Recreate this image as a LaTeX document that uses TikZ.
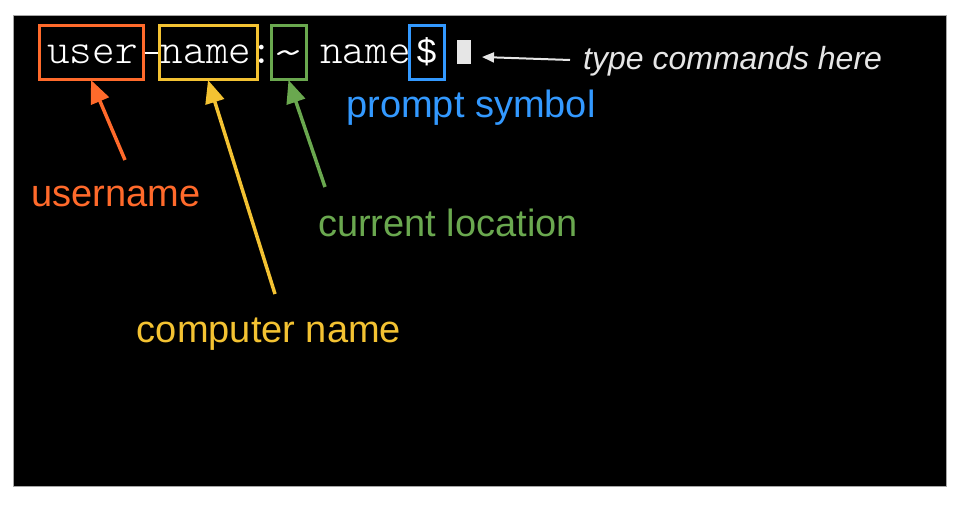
\documentclass[tikz,border=0pt]{standalone}
\usepackage{fontspec}
\usepackage{graphicx}
\setmainfont{Liberation Sans}
\newfontfamily\termfont{Latin Modern Mono Light}
\usetikzlibrary{arrows.meta}
\definecolor{cOrange}{HTML}{FF6A2B}
\definecolor{cYellow}{HTML}{F3C232}
\definecolor{cGreen}{HTML}{6AA84F}
\definecolor{cBlue}{HTML}{3399FF}
\definecolor{cGray}{HTML}{E6E6E6}
\tikzset{
  hbox/.style={draw=#1, line width=3pt, minimum height=54pt, inner sep=0pt},
  term/.style={text=white, font=\termfont\fontsize{43}{43}\selectfont, inner sep=0pt, anchor=base},
  lbl/.style={text=#1, font=\fontsize{38}{38}\selectfont, inner sep=0pt, anchor=base},
  harrow/.style={draw=#1, line width=3.5pt, -{Triangle[length=23pt,width=19pt]}},
}
\begin{document}
\begin{tikzpicture}[x=1pt,y=-1pt]
\useasboundingbox (0,0) rectangle (960,510);
\draw[fill=black, draw=gray!70, line width=1pt] (13,16) rectangle (946,486);
% terminal text
\node[term] (tuser) at (92.5,64) {user};
\node[term] (tname) at (206,64) {name};
\node[term] (tcolon) at (262,64) {:};
\node[term] (ttilde) at (288.5,64) {\raisebox{-4pt}{\scalebox{1.5}[1.1]{\char`\~}}};
\node[term] (thost) at (365.5,64) {name};
\node[text=white, font=\fontsize{35}{35}\selectfont, inner sep=0pt, anchor=base] (dollar) at (426.5,64) {\$};
\node[fill=cGray, minimum width=14pt, minimum height=24pt, inner sep=0pt] (cursor) at (464,52) {};
% highlight boxes
\node[hbox=cOrange, minimum width=104pt] (ubox) at (91,53) {};
\node[hbox=cYellow, minimum width=98pt] (nbox) at (208,53) {};
\node[hbox=cGreen, minimum width=35pt] (tbox) at (288.5,53) {};
\node[hbox=cBlue, minimum width=35pt] (dbox) at (426.5,53) {};
\draw[white, line width=2pt] (ubox.east) -- (nbox.west);
% labels
\node[lbl=cOrange] (ulbl) at (116,207) {username};
\node[lbl=cYellow] (nlbl) at (269,342) {computer name};
\node[lbl=cGreen] (tlbl) at (448,237) {current location};
\node[lbl=cBlue] (dlbl) at (471,118) {prompt symbol};
\node[text=cGray, font=\fontsize{32}{32}\selectfont\itshape, inner sep=0pt, anchor=base west] (clbl) at (583,70) {type commands here};
% arrow tails
\coordinate (utail) at (125,160);
\coordinate (ntail) at (275,294);
\coordinate (ttail) at (325,187);
\coordinate (ctail) at (570,60);
\coordinate (ctip) at (482,57);
\draw[harrow=cOrange] (utail) -- ([yshift=1.5pt]ubox.south);
\draw[harrow=cYellow] (ntail) -- ([yshift=1.5pt]nbox.south);
\draw[harrow=cGreen] (ttail) -- ([yshift=1.5pt]tbox.south);
\draw[draw=cGray, line width=2pt, -{Triangle[length=12pt,width=10pt]}] (ctail) -- (ctip);
\end{tikzpicture}
\end{document}
